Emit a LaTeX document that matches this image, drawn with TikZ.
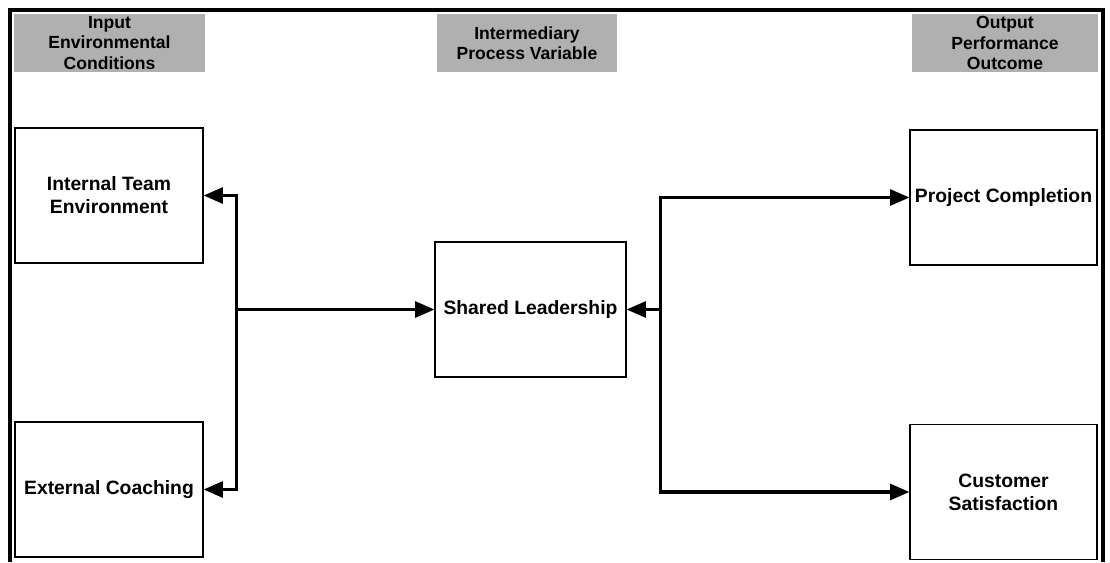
\documentclass[tikz,border=0pt]{standalone}
\usepackage{fontspec}
\setmainfont{Liberation Sans}
\usetikzlibrary{arrows.meta}

\begin{document}
\begin{tikzpicture}[x=0.02cm,y=-0.02cm,line join=miter,>={Triangle[length=11pt,width=9pt]},
  every node/.style={inner sep=1pt},
  varbox/.style={draw,line width=0.6pt,minimum width=3.76cm,minimum height=2.7cm,align=center,font=\fontsize{11}{13}\selectfont\bfseries},
  headbox/.style={fill=gray!62,minimum height=1.16cm,align=center,font=\fontsize{10}{11.5}\selectfont\bfseries},
  link/.style={line width=1.8pt}]
  \useasboundingbox (0,0) rectangle (1110,562);
  \draw[line width=1.8pt] (10,562) -- (10,10) -- (1103,10) -- (1103,562);
  % column headings
  \node[headbox,minimum width=3.82cm] (hin) at (109.5,43) {Input\\Environmental\\Conditions};
  \node[headbox,minimum width=3.6cm] (hmid) at (527,43) {Intermediary\\Process Variable};
  \node[headbox,minimum width=3.72cm] (hout) at (1005,43) {Output\\Performance\\Outcome};
  % variables
  \node[varbox] (team) at (109,195.5) {Internal Team\\Environment};
  \node[varbox] (coach) at (109,489.5) {External Coaching};
  \node[varbox,minimum width=3.82cm] (shared) at (530.5,309.5) {Shared Leadership};
  \node[varbox,minimum width=3.74cm] (proj) at (1003.5,197.5) {Project Completion};
  \node[varbox,minimum width=3.74cm] (cust) at (1003.5,492) {Customer\\Satisfaction};
  % junctions
  \path (shared.west) ++(-198,0) coordinate (lj);
  \path (shared.east) ++(34,0) coordinate (rj);
  \draw[link,->] (lj) |- (team.east);
  \draw[link,->] (lj) |- (coach.east);
  \draw[link,->] (lj) -- (shared.west);
  \draw[link,->] (rj) -- (shared.east);
  \draw[link,->] (rj) |- (proj.west);
  \draw[link,->] (rj) |- (cust.west);
\end{tikzpicture}
\end{document}
